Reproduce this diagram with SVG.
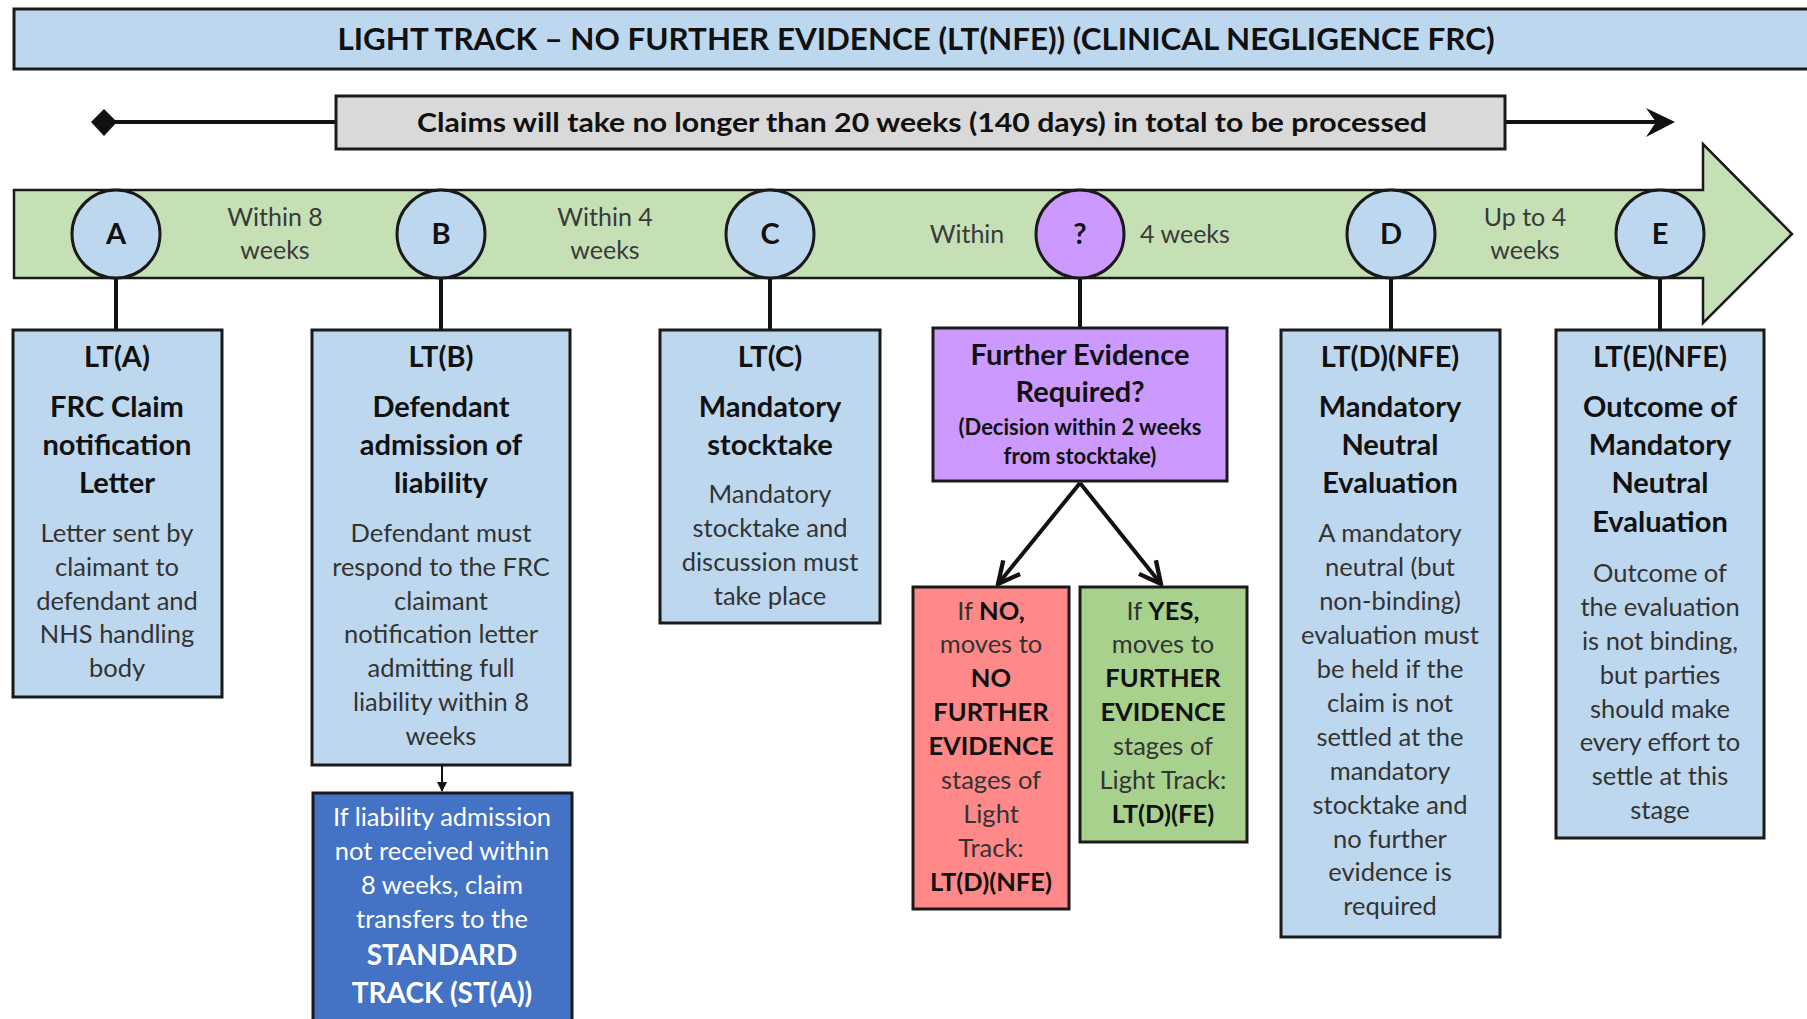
<svg xmlns="http://www.w3.org/2000/svg" width="1807" height="1019" viewBox="0 0 1807 1019">
<style>
  text { font-family: Lato, "Liberation Sans", sans-serif; text-anchor: middle; }
  .h { font-weight: bold; font-size: 29px; fill: #111; }
  .b { font-size: 25.5px; fill: #333; }
  .bb { font-weight: bold; font-size: 25.5px; fill: #111; }
  .lbl { font-size: 25px; fill: #3a3a3a; }
  .circ { stroke: #1a1a1a; stroke-width: 3; }
  .blue { fill: #BDD7EE; stroke: #1a1a1a; stroke-width: 3; }
  .letter { font-weight: bold; font-size: 29px; fill: #111; }
  .conn { stroke: #111; stroke-width: 4; fill: none; }
  .w { font-size: 25.5px; fill: #fff; }
  .wb { font-weight: bold; font-size: 28px; fill: #fff; }
</style>
<defs>
  <marker id="vhead" viewBox="0 0 12 12" refX="11" refY="6" markerWidth="6.5" markerHeight="6.5" orient="auto" markerUnits="strokeWidth">
    <path d="M1,1 L11,6 L1,11" fill="none" stroke="#111" stroke-width="2"/>
  </marker>
  <marker id="small" viewBox="0 0 10 10" refX="9" refY="5" markerWidth="5" markerHeight="5" orient="auto" markerUnits="strokeWidth">
    <path d="M0,0 L10,5 L0,10 Z" fill="#111"/>
  </marker>
</defs>

<!-- Title -->
<g id="title">
  <rect x="14" y="9" width="1810" height="60" fill="#BDD7EE" stroke="#1a1a1a" stroke-width="3"/>
  <text x="916" y="50" style="font-weight:bold;font-size:30px;fill:#111" textLength="1157" lengthAdjust="spacingAndGlyphs">LIGHT TRACK – NO FURTHER EVIDENCE (LT(NFE)) (CLINICAL NEGLIGENCE FRC)</text>
</g>

<!-- Duration line -->
<g id="duration">
  <line x1="104" y1="122" x2="336" y2="122" stroke="#111" stroke-width="4"/>
  <polygon points="104,109 117,122 104,136 91,122" fill="#111"/>
  <line x1="1505" y1="122" x2="1668" y2="122" stroke="#111" stroke-width="4"/>
  <path d="M1646,108 L1675,122 L1646,137 L1656,122 Z" fill="#111"/>
  <rect x="336" y="96" width="1169" height="53" fill="#D9D9D9" stroke="#1a1a1a" stroke-width="3"/>
  <text x="922" y="132" style="font-weight:bold;font-size:27px;fill:#111" textLength="1010" lengthAdjust="spacingAndGlyphs">Claims will take no longer than 20 weeks (140 days) in total to be processed</text>
</g>

<!-- Timeline band -->
<g id="timeline">
  <polygon points="14,190 1703,190 1703,144 1792,234 1703,323 1703,278 14,278" fill="#C5E0B4" stroke="#1a1a1a" stroke-width="2.5"/>
  <text class="lbl"><tspan x="275" y="226">Within 8</tspan><tspan x="275" y="259">weeks</tspan></text>
  <text class="lbl"><tspan x="605" y="226">Within 4</tspan><tspan x="605" y="259">weeks</tspan></text>
  <text class="lbl" x="967" y="243">Within</text>
  <text class="lbl" x="1185" y="243">4 weeks</text>
  <text class="lbl"><tspan x="1525" y="226">Up to 4</tspan><tspan x="1525" y="259">weeks</tspan></text>
</g>

<!-- Connectors -->
<g id="connectors">
  <line class="conn" x1="116" y1="278" x2="116" y2="330"/>
  <line class="conn" x1="441" y1="278" x2="441" y2="330"/>
  <line class="conn" x1="770" y1="278" x2="770" y2="330"/>
  <line class="conn" x1="1080" y1="278" x2="1080" y2="328"/>
  <line class="conn" x1="1391" y1="278" x2="1391" y2="330"/>
  <line class="conn" x1="1660" y1="278" x2="1660" y2="330"/>
  <line x1="442" y1="765" x2="442" y2="791" stroke="#111" stroke-width="2" marker-end="url(#small)"/>
  <line class="conn" x1="1080" y1="483" x2="998" y2="584" marker-end="url(#vhead)"/>
  <line class="conn" x1="1080" y1="483" x2="1161" y2="584" marker-end="url(#vhead)"/>
</g>

<!-- Milestone circles -->
<g id="circle-A"><circle class="circ" cx="116" cy="234" r="44" fill="#BDD7EE"/><text class="letter" x="116" y="244">A</text></g>
<g id="circle-B"><circle class="circ" cx="441" cy="234" r="44" fill="#BDD7EE"/><text class="letter" x="441" y="244">B</text></g>
<g id="circle-C"><circle class="circ" cx="770" cy="234" r="44" fill="#BDD7EE"/><text class="letter" x="770" y="244">C</text></g>
<g id="circle-Q"><circle class="circ" cx="1080" cy="234" r="44" fill="#CC99FF"/><text class="letter" x="1080" y="244">?</text></g>
<g id="circle-D"><circle class="circ" cx="1391" cy="234" r="44" fill="#BDD7EE"/><text class="letter" x="1391" y="244">D</text></g>
<g id="circle-E"><circle class="circ" cx="1660" cy="234" r="44" fill="#BDD7EE"/><text class="letter" x="1660" y="244">E</text></g>

<!-- LT(A) -->
<g id="box-LTA">
  <rect class="blue" x="13" y="330" width="209" height="367"/>
  <text class="h"><tspan x="117" y="367">LT(A)</tspan><tspan x="117" y="417">FRC Claim</tspan><tspan x="117" y="455">notification</tspan><tspan x="117" y="493">Letter</tspan></text>
  <text class="b"><tspan x="117" y="542">Letter sent by</tspan><tspan x="117" y="576">claimant to</tspan><tspan x="117" y="610">defendant and</tspan><tspan x="117" y="643">NHS handling</tspan><tspan x="117" y="677">body</tspan></text>
</g>

<!-- LT(B) -->
<g id="box-LTB">
  <rect class="blue" x="312" y="330" width="258" height="435"/>
  <text class="h"><tspan x="441" y="367">LT(B)</tspan><tspan x="441" y="417">Defendant</tspan><tspan x="441" y="455">admission of</tspan><tspan x="441" y="493">liability</tspan></text>
  <text class="b"><tspan x="441" y="542">Defendant must</tspan><tspan x="441" y="576">respond to the FRC</tspan><tspan x="441" y="610">claimant</tspan><tspan x="441" y="643">notification letter</tspan><tspan x="441" y="677">admitting full</tspan><tspan x="441" y="711">liability within 8</tspan><tspan x="441" y="745">weeks</tspan></text>
</g>

<!-- Standard track -->
<g id="box-STA">
  <rect x="313" y="793" width="259" height="240" fill="#4472C4" stroke="#1a1a1a" stroke-width="3"/>
  <text class="w"><tspan x="442" y="826">If liability admission</tspan><tspan x="442" y="860">not received within</tspan><tspan x="442" y="894">8 weeks, claim</tspan><tspan x="442" y="928">transfers to the</tspan></text>
  <text class="wb"><tspan x="442" y="965">STANDARD</tspan><tspan x="442" y="1003">TRACK (ST(A))</tspan></text>
</g>

<!-- LT(C) -->
<g id="box-LTC">
  <rect class="blue" x="660" y="330" width="220" height="293"/>
  <text class="h"><tspan x="770" y="367">LT(C)</tspan><tspan x="770" y="417">Mandatory</tspan><tspan x="770" y="455">stocktake</tspan></text>
  <text class="b"><tspan x="770" y="503">Mandatory</tspan><tspan x="770" y="537">stocktake and</tspan><tspan x="770" y="571">discussion must</tspan><tspan x="770" y="605">take place</tspan></text>
</g>

<!-- Further evidence decision -->
<g id="box-FE">
  <rect x="933" y="328" width="294" height="153" fill="#CC99FF" stroke="#1a1a1a" stroke-width="3"/>
  <text class="h"><tspan x="1080" y="365">Further Evidence</tspan><tspan x="1080" y="402">Required?</tspan></text>
  <text style="font-weight:bold;font-size:22px;fill:#111"><tspan x="1080" y="435">(Decision within 2 weeks</tspan><tspan x="1080" y="464">from stocktake)</tspan></text>
</g>

<!-- NO -->
<g id="box-NO">
  <rect x="913" y="587" width="156" height="322" fill="#FF8989" stroke="#1a1a1a" stroke-width="3"/>
  <text class="b"><tspan x="991" y="620">If <tspan class="bb">NO,</tspan></tspan><tspan x="991" y="653">moves to</tspan><tspan x="991" y="687" class="bb">NO</tspan><tspan x="991" y="721" class="bb">FURTHER</tspan><tspan x="991" y="755" class="bb">EVIDENCE</tspan><tspan x="991" y="789">stages of</tspan><tspan x="991" y="823">Light</tspan><tspan x="991" y="857">Track:</tspan><tspan x="991" y="891" class="bb">LT(D)(NFE)</tspan></text>
</g>

<!-- YES -->
<g id="box-YES">
  <rect x="1080" y="587" width="167" height="255" fill="#A9D18E" stroke="#1a1a1a" stroke-width="3"/>
  <text class="b"><tspan x="1163" y="620">If <tspan class="bb">YES,</tspan></tspan><tspan x="1163" y="653">moves to</tspan><tspan x="1163" y="687" class="bb">FURTHER</tspan><tspan x="1163" y="721" class="bb">EVIDENCE</tspan><tspan x="1163" y="755">stages of</tspan><tspan x="1163" y="789">Light Track:</tspan><tspan x="1163" y="823" class="bb">LT(D)(FE)</tspan></text>
</g>

<!-- LT(D)(NFE) -->
<g id="box-LTD">
  <rect class="blue" x="1281" y="330" width="219" height="607"/>
  <text class="h"><tspan x="1390" y="367">LT(D)(NFE)</tspan><tspan x="1390" y="417">Mandatory</tspan><tspan x="1390" y="455">Neutral</tspan><tspan x="1390" y="493">Evaluation</tspan></text>
  <text class="b"><tspan x="1390" y="542">A mandatory</tspan><tspan x="1390" y="576">neutral (but</tspan><tspan x="1390" y="610">non-binding)</tspan><tspan x="1390" y="644">evaluation must</tspan><tspan x="1390" y="678">be held if the</tspan><tspan x="1390" y="712">claim is not</tspan><tspan x="1390" y="746">settled at the</tspan><tspan x="1390" y="780">mandatory</tspan><tspan x="1390" y="814">stocktake and</tspan><tspan x="1390" y="848">no further</tspan><tspan x="1390" y="881">evidence is</tspan><tspan x="1390" y="915">required</tspan></text>
</g>

<!-- LT(E)(NFE) -->
<g id="box-LTE">
  <rect class="blue" x="1556" y="330" width="208" height="508"/>
  <text class="h"><tspan x="1660" y="367">LT(E)(NFE)</tspan><tspan x="1660" y="417">Outcome of</tspan><tspan x="1660" y="455">Mandatory</tspan><tspan x="1660" y="493">Neutral</tspan><tspan x="1660" y="532">Evaluation</tspan></text>
  <text class="b"><tspan x="1660" y="582">Outcome of</tspan><tspan x="1660" y="616">the evaluation</tspan><tspan x="1660" y="650">is not binding,</tspan><tspan x="1660" y="684">but parties</tspan><tspan x="1660" y="718">should make</tspan><tspan x="1660" y="751">every effort to</tspan><tspan x="1660" y="785">settle at this</tspan><tspan x="1660" y="819">stage</tspan></text>
</g>
</svg>
